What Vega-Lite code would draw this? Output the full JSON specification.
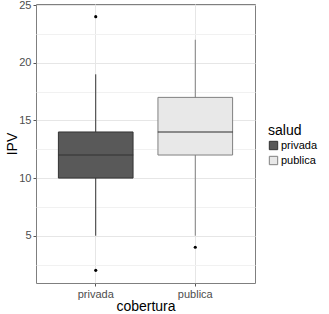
{
  "$schema": "https://vega.github.io/schema/vega-lite/v6.json",
  "width": 219,
  "height": 279,
  "autosize": {"type": "none"},
  "padding": {"left": 36, "top": 4, "right": 74, "bottom": 31},
  "background": "white",
  "config": {
    "font": "Liberation Sans",
    "view": {"stroke": "#7f7f7f", "strokeWidth": 1},
    "axis": {
      "gridColor": "#e6e6e6",
      "gridWidth": 1,
      "domain": false,
      "tickColor": "#555555",
      "tickSize": 3,
      "labelColor": "#4d4d4d",
      "labelFontSize": 11,
      "labelFont": "Liberation Sans",
      "titleFont": "Liberation Sans",
      "titleFontSize": 14,
      "titleFontWeight": "normal",
      "titleColor": "#000000"
    }
  },
  "datasets": {
    "boxes": [
      {"cobertura": "privada", "salud": "privada", "lower": 5, "q1": 10, "median": 12, "q3": 14, "upper": 19},
      {"cobertura": "publica", "salud": "publica", "lower": 5, "q1": 12, "median": 14, "q3": 17, "upper": 22}
    ],
    "outliers": [
      {"cobertura": "privada", "IPV": 24},
      {"cobertura": "privada", "IPV": 2},
      {"cobertura": "publica", "IPV": 4}
    ]
  },
  "resolve": {"axis": {"y": "independent"}},
  "layer": [
    {
      "data": {"name": "boxes"},
      "mark": {"type": "rule", "strokeWidth": 1},
      "encoding": {
        "x": {
          "field": "cobertura", "type": "nominal",
          "scale": {"paddingInner": 0.25, "paddingOuter": 0.225},
          "axis": {"title": "cobertura", "labelAngle": 0, "labelPadding": 2, "titlePadding": 0, "grid": true}
        },
        "y": {
          "field": "lower", "type": "quantitative",
          "scale": {"domain": [0.9, 25.1], "nice": false, "zero": false},
          "axis": {"title": "IPV", "values": [5, 10, 15, 20, 25], "labelPadding": 2, "titlePadding": -1, "grid": true}
        },
        "y2": {"field": "upper"},
        "stroke": {
          "field": "salud", "type": "nominal",
          "scale": {"domain": ["privada", "publica"], "range": ["#333333", "#808080"]}
        }
      }
    },
    {
      "data": {"name": "boxes"},
      "mark": {"type": "bar", "strokeWidth": 1},
      "encoding": {
        "x": {"field": "cobertura", "type": "nominal"},
        "y": {
          "field": "q1", "type": "quantitative",
          "axis": {
            "values": [2.5, 7.5, 12.5, 17.5, 22.5], "orient": "left",
            "labels": false, "ticks": false, "domain": false, "title": null,
            "grid": true, "gridColor": "#f1f1f1"
          }
        },
        "y2": {"field": "q3"},
        "fill": {
          "field": "salud", "type": "nominal",
          "scale": {"domain": ["privada", "publica"], "range": ["#595959", "#e8e8e8"]},
          "legend": {
            "title": "salud",
            "orient": "none",
            "legendX": 232,
            "legendY": 120,
            "titleFontSize": 14,
            "titleFontWeight": "normal",
            "titleColor": "#000000",
            "titlePadding": 2,
            "labelFontSize": 11,
            "labelColor": "#000000",
            "symbolType": "square",
            "symbolSize": 70,
            "symbolStrokeWidth": 1,
            "rowPadding": 2,
            "labelOffset": 2
          }
        },
        "stroke": {"field": "salud", "type": "nominal"}
      }
    },
    {
      "data": {"name": "boxes"},
      "mark": {"type": "tick", "size": 75, "thickness": 1.5, "color": "#333333"},
      "encoding": {
        "x": {"field": "cobertura", "type": "nominal"},
        "y": {"field": "median", "type": "quantitative", "axis": null}
      }
    },
    {
      "data": {"name": "outliers"},
      "mark": {"type": "point", "filled": true, "size": 10, "color": "#000000", "opacity": 1},
      "encoding": {
        "x": {"field": "cobertura", "type": "nominal"},
        "y": {"field": "IPV", "type": "quantitative", "axis": null}
      }
    }
  ]
}
